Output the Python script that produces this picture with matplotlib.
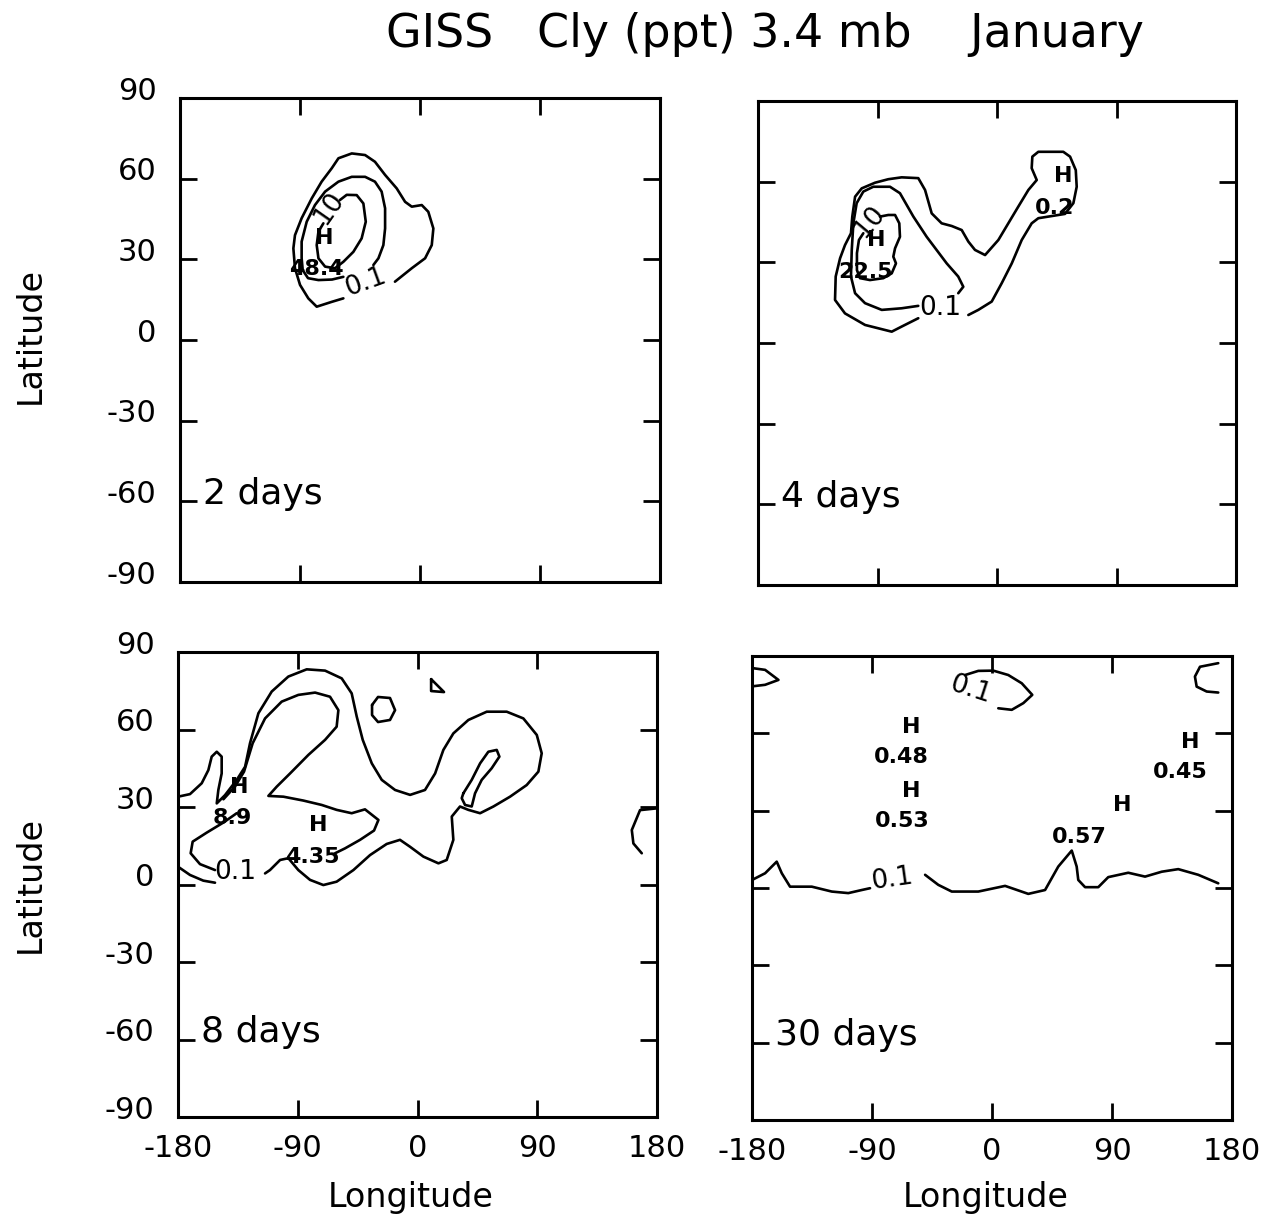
import matplotlib
matplotlib.use("Agg")
from matplotlib import pyplot as plt
import matplotlib.transforms as mtransforms

# axis ticks
lon_ticks = [-180, -90, 0, 90, 180]
lat_ticks = [-90, -60, -30, 0, 30, 60, 90]

# ---- 2 days ----
d2_outer_lon = [-18.8, -6.2, 3.8, 8.8, 10.0, 6.2, 1.3, -6.2, -11.2, -17.5, -26.2, -33.8, -41.2,
                -51.2, -61.2, -66.2, -73.8, -81.2, -88.8, -93.8, -95.0, -93.8, -90.0, -83.8,
                -77.5, -66.2, -57.5]
d2_outer_lat = [21.7, 26.7, 30.4, 35.3, 41.5, 47.7, 50.2, 49.6, 51.4, 56.4, 61.4, 66.3, 68.8,
                69.4, 67.6, 63.9, 58.9, 52.7, 45.3, 39.0, 34.1, 26.7, 20.5, 15.5, 12.4, 14.2, 15.5]
d2_mid_lon = [-35.0, -31.2, -27.5, -26.2, -26.2, -28.8, -33.8, -41.2, -51.2, -61.2, -71.2, -78.8,
              -85.0, -88.8, -88.8, -88.0, -84.0, -76.2, -66.0, -57.5]
d2_mid_lat = [27.9, 30.4, 35.3, 41.5, 49.0, 55.2, 58.9, 60.7, 60.7, 58.9, 55.2, 50.2,
              44.0, 36.6, 30.4, 26.0, 23.0, 22.3, 22.5, 23.5]
d2_inner_lon = [-60.0, -55.0, -47.5, -42.5, -40.7, -43.8, -50.0, -57.5, -63.8, -71.2, -76.2,
                -77.5, -76.2, -72.5]
d2_inner_lat = [52.1, 54.0, 53.9, 50.8, 44.0, 37.8, 32.8, 29.1, 26.7, 27.3, 30.4,
                35.3, 40.3, 43.4]
# contour labels and highs
d2_clab = ["0.1", "10"]
d2_clab_lon = [-41.2, -68.2]
d2_clab_lat = [21.6, 49.1]
d2_clab_rot = [20, 55]
d2_high = ["H", "48.4"]
d2_high_lon = [-72.0, -78.0]
d2_high_lat = [37.9, 26.4]

# ---- 4 days ----
d4_outer_lon = [-21.6, -14.1, -4.0, 3.5, 11.1, 18.6, 26.1, 31.1, 41.2, 51.2, 57.5, 60.0, 59.3,
                55.0, 49.9, 31.1, 26.6, 26.1, 29.9, 23.6, 16.0, 8.5, 1.0, -9.0, -16.6, -21.6,
                -26.6, -34.1, -41.7, -49.2, -54.2, -59.3, -71.8, -81.9, -91.9, -101.9, -106.9,
                -109.0, -110.0, -114.5, -118.2, -121.5, -122.0, -114.5, -99.4, -79.3, -71.8, -59.3]
d4_outer_lat = [10.4, 12.3, 15.4, 22.2, 29.6, 38.3, 44.5, 46.4, 47.2, 48.0, 52.0, 58.1, 64.3,
                69.3, 71.1, 71.1, 69.3, 65.0, 60.6, 56.9, 50.7, 44.5, 38.3, 32.7, 34.6, 37.7,
                42.0, 43.5, 44.5, 48.2, 56.9, 61.3, 61.6, 60.9, 59.6, 57.5, 54.4,
                47.0, 40.8, 36.4, 31.5, 24.7, 16.0, 11.0, 6.7, 4.2, 6.1, 9.2]
d4_mid_lon = [-29.2, -25.4, -29.2, -37.9, -53.0, -63.0, -73.1, -80.6, -93.2, -100.7, -105.7,
              -108.2, -109.4, -110.0, -106.9, -99.4, -86.8, -71.8, -59.3]
d4_mid_lat = [18.5, 20.9, 24.7, 29.6, 39.5, 47.0, 55.7, 58.1, 58.1, 56.3, 52.0,
              44.5, 34.6, 24.7, 18.5, 14.8, 12.3, 12.9, 13.8]
d4_inner_lon = [-88.1, -81.9, -76.8, -73.6, -73.1, -76.8, -78.1, -76.1, -79.3, -85.6, -95.7,
                -103.2, -105.5, -105.5, -104.0, -100.7]
d4_inner_lat = [47.0, 47.6, 47.6, 44.5, 39.5, 35.2, 32.1, 29.6, 25.9, 24.1, 23.4,
                24.1, 27.1, 33.4, 38.3, 40.8]
d4_clab = ["0.1", "10"]
d4_clab_lon = [-42.9, -95.7]
d4_clab_lat = [13.0, 45.0]
d4_clab_rot = [0, 50]
d4_high = ["H", "22.5", "H", "0.2"]
d4_high_lon = [-91.1, -99.4, 49.7, 43.7]
d4_high_lat = [38.3, 26.4, 62.1, 50.2]

# ---- 8 days ----
d8_outer_lon = [-180.0, -171.0, -162.2, -157.2, -154.7, -150.9, -147.2, -147.2, -149.7, -150.9,
                -144.7, -135.9, -129.6, -125.9, -119.6, -109.6, -97.1, -83.3, -69.5, -57.0,
                -49.5, -45.7, -41.2, -34.4, -26.9, -16.9, -5.6, 5.6, 13.2, 19.4, 26.9, 38.2,
                52.0, 67.0, 79.5, 89.6, 93.3, 90.8, 82.0, 69.5, 57.0, 47.0, 38.2, 31.9, 25.7,
                26.9, 21.9, 15.7, 4.4, -5.6, -13.2, -23.2, -35.7, -48.2, -60.8, -70.8, -80.8,
                -89.6, -97.1, -103.3, -110.9, -114.6]
d8_outer_lat = [34.0, 35.0, 39.2, 44.3, 49.5, 51.4, 49.5, 43.0, 36.6, 31.4,
                34.6, 40.5, 45.6, 54.7, 66.3, 74.7, 80.5, 83.3, 82.8, 79.8,
                74.0, 65.0, 56.0, 46.9, 40.5, 36.6, 34.7, 36.6, 43.0, 52.1, 58.5, 63.7,
                66.9, 66.9, 64.3, 57.9, 50.8, 43.7, 38.5, 34.0, 30.2, 27.6, 28.9, 30.2, 26.3,
                17.3, 9.5, 8.2, 10.8, 14.6, 17.3, 15.7, 11.4, 5.6, 1.1, -0.2, 1.8,
                5.6, 10.2, 9.5, 5.6, 4.3]
d8_tail_lon = [-152.2, -161.0, -171.0, -180.0]
d8_tail_lat = [0.7, 1.5, 3.7, 6.9]
d8_inner_lon = [-145.9, -137.2, -130.4, -123.9, -114.6, -102.1, -89.6, -77.0, -65.8, -59.5,
                -60.8, -69.5, -82.0, -95.8, -105.8, -112.1, -100.8, -85.8, -72.0, -60.8,
                -49.5, -39.5, -29.4, -32.7, -43.2, -54.5, -62.0]
d8_inner_lat = [33.0, 37.9, 43.7, 54.7, 64.3, 70.8, 73.4, 74.3, 72.7, 67.5,
                61.1, 56.0, 50.2, 43.0, 37.9, 34.3, 34.0, 32.5, 30.8, 28.9,
                27.6, 29.1, 25.0, 20.9, 17.3, 14.0, 12.1]
d8_low_lon = [-135.9, -145.9, -158.4, -169.0, -170.5, -163.5, -152.2]
d8_low_lat = [27.6, 24.0, 20.1, 16.6, 12.1, 7.9, 5.6]
d8_finger_lon = [34.4, 40.7, 47.0, 53.2, 59.5, 61.5, 55.7, 48.2, 43.2, 40.7, 35.7, 33.2, 34.4]
d8_finger_lat = [35.3, 40.5, 46.9, 51.4, 52.1, 49.5, 45.0, 40.5, 35.3, 30.2, 30.8, 33.4, 35.3]
d8_ring_lon = [-34.2, -29.7, -20.7, -16.9, -20.7, -29.7, -34.2, -34.2]
d8_ring_lat = [69.5, 72.6, 72.2, 67.5, 63.7, 62.9, 65.6, 69.5]
d8_tri_lon = [10.2, 19.9, 10.2, 10.2]
d8_tri_lat = [79.5, 74.5, 74.9, 79.5]
d8_edge_lon = [180.0, 167.2, 161.0, 162.2, 168.5]
d8_edge_lat = [29.5, 28.8, 21.1, 15.9, 12.1]
d8_clab = ["0.1"]
d8_clab_lon = [-136.7]
d8_clab_lat = [5.0]
d8_clab_rot = [0]
d8_high = ["H", "8.9", "H", "4.35"]
d8_high_lon = [-134.2, -139.6, -74.5, -78.9]
d8_high_lat = [37.7, 25.9, 23.0, 10.8]

# ---- 30 days ----
d30_west_lon = [-180.0, -170.2, -161.5, -157.7, -151.5, -135.2, -120.2, -107.8, -97.7, -91.5]
d30_west_lat = [3.1, 5.7, 10.2, 5.7, 0.5, 0.5, -1.4, -2.0, -0.8, -0.1]
d30_east_lon = [-50.2, -40.3, -30.2, -10.3, 9.8, 27.2, 39.8, 49.7, 59.8, 63.5, 64.7, 69.8,
                79.7, 87.2, 102.2, 114.8, 127.3, 139.7, 154.7, 169.7]
d30_east_lat = [5.1, 1.2, -1.4, -1.4, 0.8, -2.3, -0.8, 8.3, 14.5, 8.3, 3.1, 0.3,
                0.3, 4.2, 5.9, 4.4, 6.3, 7.3, 5.1, 1.8]
d30_cap_lon = [-20.2, -10.3, 1.0, 12.2, 22.3, 30.2, 23.5, 14.8, 4.7]
d30_cap_lat = [82.6, 84.2, 84.3, 82.6, 79.4, 74.9, 71.7, 69.1, 69.7]
d30_nw_lon = [-180.0, -170.2, -160.2, -170.2, -180.0]
d30_nw_lat = [85.3, 84.6, 80.7, 78.8, 78.2]
d30_ne_lon = [169.7, 156.0, 152.2, 153.5, 161.0, 169.7]
d30_ne_lat = [87.2, 85.8, 82.0, 78.1, 76.2, 75.8]
d30_clab = ["0.1", "0.1"]
d30_clab_lon = [-75.2, -16.5]
d30_clab_lat = [3.6, 76.8]
d30_clab_rot = [8, -18]
d30_high = ["H", "0.48", "H", "0.53", "H", "0.57", "H", "0.45"]
d30_high_lon = [-60.8, -67.7, -60.8, -67.7, 97.9, 65.4, 148.5, 141.0]
d30_high_lat = [62.5, 50.9, 37.6, 26.1, 32.2, 19.9, 56.8, 45.1]

plt.rcParams["font.family"] = ["DejaVu Sans"]

fig = plt.figure(figsize=(12.68, 12.24), dpi=100)
ax_tl = fig.add_axes([0.1420, 0.5245, 0.3785, 0.3954])
ax_tr = fig.add_axes([0.5978, 0.5221, 0.3770, 0.3954])
ax_bl = fig.add_axes([0.1404, 0.0874, 0.3778, 0.3799])
ax_br = fig.add_axes([0.5931, 0.0850, 0.3785, 0.3791])

lift = mtransforms.ScaledTranslation(0, 0.10, fig.dpi_scale_trans)


def frame(ax, ylab, xlab):
    ax.set_xlim(-180, 180)
    ax.set_ylim(-90, 90)
    ax.set_xticks(lon_ticks)
    ax.set_yticks(lat_ticks)
    ax.tick_params(direction="in", length=12, width=2.0, top=True, right=True,
                   labelsize=22, pad=12)
    ax.tick_params(axis="y", pad=17)
    for s in ax.spines.values():
        s.set_linewidth(2.2)
    if ylab:
        ax.set_yticklabels([str(v) for v in lat_ticks])
        for t in ax.get_yticklabels():
            t.set_transform(t.get_transform() + lift)
    else:
        ax.set_yticklabels([])
    if xlab:
        ax.set_xticklabels([str(v) for v in lon_ticks])
    else:
        ax.set_xticklabels([])


def lines(ax, paths):
    for lo, la in paths:
        ax.plot(lo, la, color="black", lw=1.9, solid_joinstyle="round",
                solid_capstyle="round")


def contour_labels(ax, txt, lo, la, rot):
    for s, x, y, r in zip(txt, lo, la, rot):
        ax.text(x, y, s, ha="center", va="center", rotation=r, fontsize=19)


def highs(ax, txt, lo, la):
    for s, x, y in zip(txt, lo, la):
        ax.text(x, y, s, ha="center", va="center", fontsize=16, fontweight="bold")


frame(ax_tl, True, False)
frame(ax_tr, False, False)
frame(ax_bl, True, True)
frame(ax_br, False, True)

lines(ax_tl, [(d2_outer_lon, d2_outer_lat), (d2_mid_lon, d2_mid_lat),
              (d2_inner_lon, d2_inner_lat)])
contour_labels(ax_tl, d2_clab, d2_clab_lon, d2_clab_lat, d2_clab_rot)
highs(ax_tl, d2_high, d2_high_lon, d2_high_lat)

lines(ax_tr, [(d4_outer_lon, d4_outer_lat), (d4_mid_lon, d4_mid_lat),
              (d4_inner_lon, d4_inner_lat)])
contour_labels(ax_tr, d4_clab, d4_clab_lon, d4_clab_lat, d4_clab_rot)
highs(ax_tr, d4_high, d4_high_lon, d4_high_lat)

lines(ax_bl, [(d8_outer_lon, d8_outer_lat), (d8_tail_lon, d8_tail_lat),
              (d8_inner_lon, d8_inner_lat), (d8_low_lon, d8_low_lat),
              (d8_finger_lon, d8_finger_lat), (d8_ring_lon, d8_ring_lat),
              (d8_tri_lon, d8_tri_lat), (d8_edge_lon, d8_edge_lat)])
contour_labels(ax_bl, d8_clab, d8_clab_lon, d8_clab_lat, d8_clab_rot)
highs(ax_bl, d8_high, d8_high_lon, d8_high_lat)

lines(ax_br, [(d30_west_lon, d30_west_lat), (d30_east_lon, d30_east_lat),
              (d30_cap_lon, d30_cap_lat), (d30_nw_lon, d30_nw_lat),
              (d30_ne_lon, d30_ne_lat)])
contour_labels(ax_br, d30_clab, d30_clab_lon, d30_clab_lat, d30_clab_rot)
highs(ax_br, d30_high, d30_high_lon, d30_high_lat)

for ax, name in [(ax_tl, "2 days"), (ax_tr, "4 days"), (ax_bl, "8 days"), (ax_br, "30 days")]:
    ax.text(-163, -61, name, ha="left", va="baseline", fontsize=26)

fig.text(0.603, 0.972, "GISS   Cly (ppt) 3.4 mb    January", ha="center", va="center",
         fontsize=33)
fig.text(0.024, 0.7255, "Latitude", rotation=90, ha="center", va="center", fontsize=24)
fig.text(0.024, 0.277, "Latitude", rotation=90, ha="center", va="center", fontsize=24)
fig.text(0.324, 0.022, "Longitude", ha="center", va="center", fontsize=24)
fig.text(0.777, 0.022, "Longitude", ha="center", va="center", fontsize=24)

fig.savefig("out.png", dpi=100)
